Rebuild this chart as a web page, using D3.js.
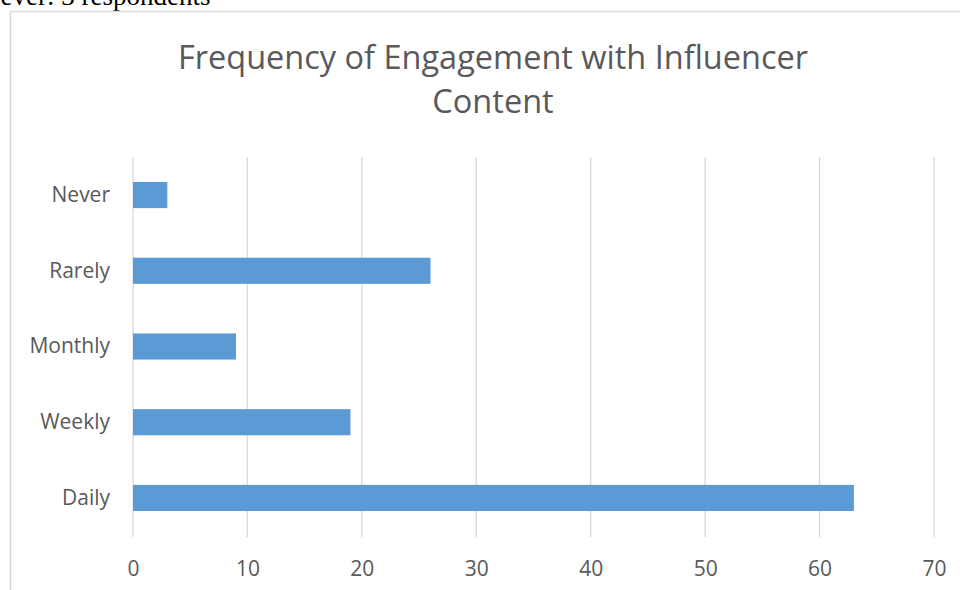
<!DOCTYPE html>
<html>
<head>
<meta charset="utf-8">
<script src="https://cdn.jsdelivr.net/npm/d3@7"></script>
<style>
  body { margin: 0; background: #fff; }
  svg { display: block; }
</style>
</head>
<body>
<div id="container"></div>
<script>
// chart data
const categories = ["Never", "Rarely", "Monthly", "Weekly", "Daily"];
const values = [3, 26, 9, 19, 63];
const xTicks = [0, 10, 20, 30, 40, 50, 60, 70];
const titleLines = ["Frequency of Engagement with Influencer", "Content"];

const W = 960, H = 590;
const margin = { left: 133, right: 26, top: 157, bottom: 54 };
const width = W - margin.left - margin.right;
const height = H - margin.top - margin.bottom;

const x = d3.scaleLinear().domain([0, 70]).range([0, width]);
const y = d3.scaleBand().domain(categories).range([0, height]).paddingInner(0.655).paddingOuter(0.33);

const svg = d3.select("#container").append("svg")
    .attr("width", W)
    .attr("height", H);

// bit of the document text above the chart frame
svg.append("text")
    .attr("x", -19)
    .attr("y", 5)
    .attr("font-family", "Liberation Serif, Times New Roman, serif")
    .attr("font-size", 27)
    .attr("fill", "#000")
    .text("Never: 3 respondents");

// chart frame
svg.append("rect")
    .attr("x", 10.5)
    .attr("y", 11.5)
    .attr("width", W + 20)
    .attr("height", H + 20)
    .attr("fill", "#fff")
    .attr("stroke", "#d9d9d9")
    .attr("stroke-width", 1.5);

// title
svg.append("text")
    .attr("text-anchor", "middle")
    .attr("font-family", "Open Sans, sans-serif")
    .attr("font-size", 32.5)
    .attr("fill", "#595959")
    .selectAll("tspan")
    .data(titleLines)
    .join("tspan")
    .attr("x", 493)
    .attr("y", (d, i) => 69 + i * 44)
    .text(d => d);

const g = svg.append("g")
    .attr("transform", `translate(${margin.left},${margin.top})`);

// gridlines
g.append("g")
    .selectAll("line")
    .data(xTicks)
    .join("line")
    .attr("x1", d => x(d))
    .attr("x2", d => x(d))
    .attr("y1", 0)
    .attr("y2", height + 1)
    .attr("stroke", "#d9d9d9")
    .attr("stroke-width", 1.3);

// bars
g.append("g")
    .selectAll("rect")
    .data(values)
    .join("rect")
    .attr("x", x(0))
    .attr("y", (d, i) => y(categories[i]))
    .attr("width", d => x(d) - x(0))
    .attr("height", y.bandwidth())
    .attr("fill", "#5b9bd5");

// x axis labels
const xAxis = g.append("g")
    .attr("transform", `translate(0,${height})`)
    .call(d3.axisBottom(x).tickValues(xTicks).tickSize(0).tickPadding(25));
xAxis.select(".domain").remove();
xAxis.selectAll("text")
    .attr("font-family", "Open Sans, sans-serif")
    .attr("font-size", 21)
    .attr("fill", "#595959");

// y axis labels
const yAxis = g.append("g")
    .call(d3.axisLeft(y).tickSize(0).tickPadding(23));
yAxis.select(".domain").remove();
yAxis.selectAll("text")
    .attr("font-family", "Open Sans, sans-serif")
    .attr("font-size", 21)
    .attr("fill", "#595959");
</script>
</body>
</html>
